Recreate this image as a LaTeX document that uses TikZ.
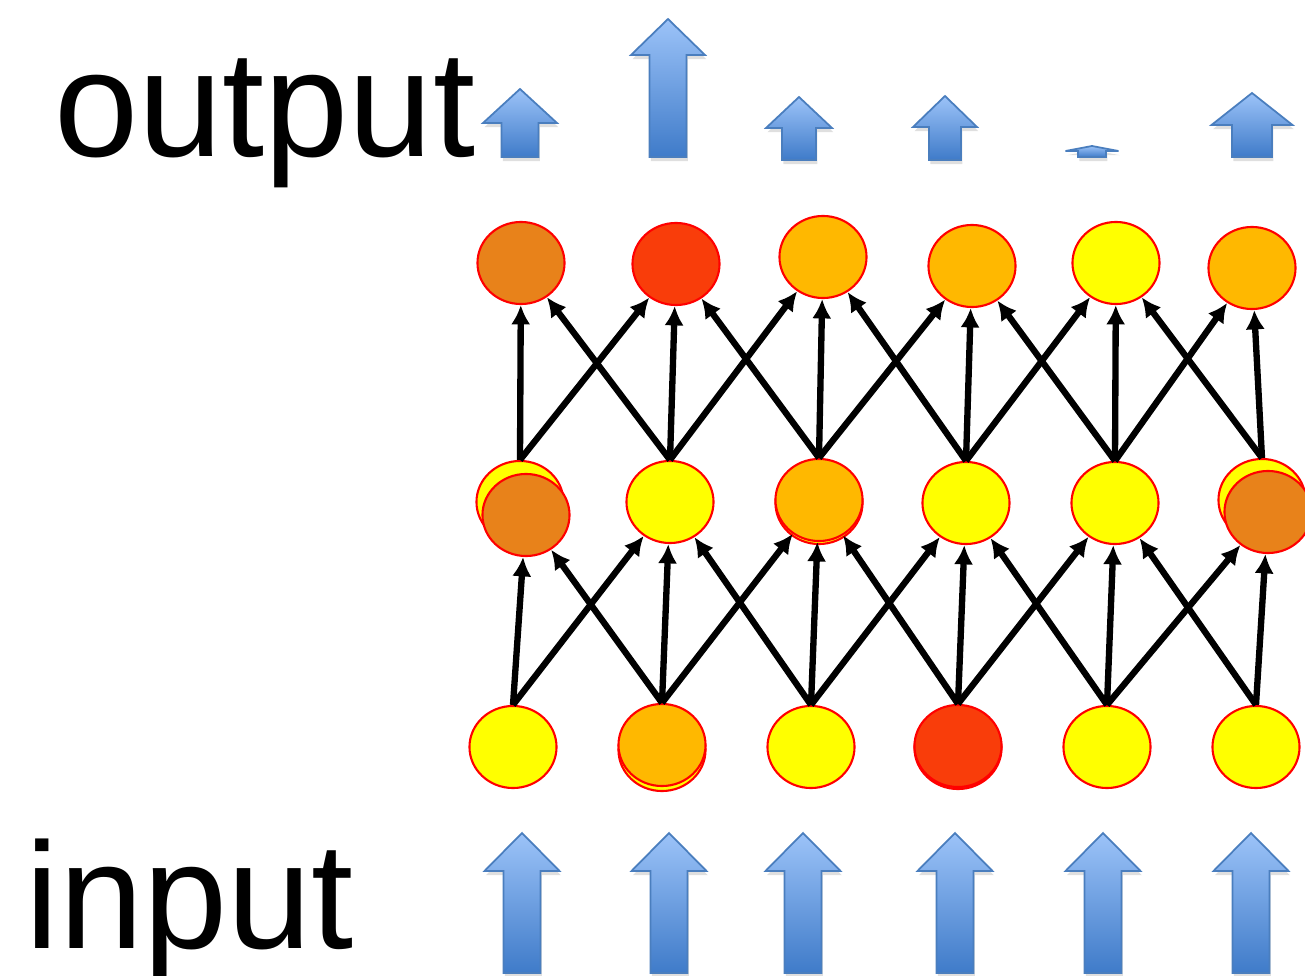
\documentclass[tikz,border=0pt]{standalone}
\usepackage{fontspec}
\setmainfont{Liberation Sans}
\usetikzlibrary{shapes.geometric,arrows.meta,shadows}
\definecolor{cy}{HTML}{FFFF00}
\definecolor{co}{HTML}{FFB800}
\definecolor{cd}{HTML}{E8821A}
\definecolor{cr}{HTML}{F93D0A}
\definecolor{alight}{HTML}{9CC3F8}
\definecolor{adark}{HTML}{3F7BC9}
\definecolor{aedge}{HTML}{4A7EBE}
\begin{document}
\begin{tikzpicture}[x=0.01cm,y=-0.01cm,
  neuron/.style={ellipse, draw=red, line width=0.6pt, minimum width=0.87cm, minimum height=0.82cm, inner sep=0pt},
  conn/.style={line width=1.8pt, -{Latex[length=5.5pt,width=5.5pt]}},
  barrow/.style={top color=alight, bottom color=adark, draw=aedge, line width=0.5pt,
    drop shadow={opacity=0.25, shadow xshift=0.4pt, shadow yshift=-1.2pt}},
  label/.style={anchor=base west, inner sep=0pt, font=\fontsize{43}{50}\selectfont}]
\useasboundingbox (0,0) rectangle (1305,976);
\clip (0,0) rectangle (1305,976);
\newcommand\blockarrow[6]{%
  \path[barrow] (#1-#5,#6) -- (#1-#5,#3) -- (#1-#4,#3) -- (#1,#2) -- (#1+#4,#3) -- (#1+#5,#3) -- (#1+#5,#6) -- cycle;}
% labels
\node[label] (outlbl) at (54,157) {output};
\node[label] (inlbl) at (25,948) {input};
% output arrows
\blockarrow{520}{89}{123}{37}{18.5}{157}
\blockarrow{668}{19}{55}{37}{18.5}{157}
\blockarrow{799}{97}{128}{33}{17}{160}
\blockarrow{945}{96}{127}{32}{16}{160}
\blockarrow{1092}{146}{151}{26.5}{14}{157}
\blockarrow{1252}{93}{125}{40.5}{20}{157}
% input arrows
\foreach \x in {522,669,803,955,1103,1251}{\blockarrow{\x}{833}{871}{37.5}{18.5}{973}}
% top row
\node[neuron, fill=cd] (t1) at (521,263) {};
\node[neuron, fill=cr] (t2) at (676,264) {};
\node[neuron, fill=co] (t3) at (823,257) {};
\node[neuron, fill=co] (t4) at (972,266) {};
\node[neuron, fill=cy] (t5) at (1116,263) {};
\node[neuron, fill=co] (t6) at (1252,268) {};
% middle row
\node[neuron, fill=cy] (m1y) at (520,502) {};
\node[neuron, fill=cd] (m1) at (526,515) {};
\node[neuron, fill=cy] (m2) at (670,502) {};
\node[neuron, fill=cy] (m3b) at (819,503) {};
\node[neuron, fill=co] (m3) at (819,500) {};
\node[neuron, fill=cy] (m4) at (966,503) {};
\node[neuron, fill=cy] (m5) at (1115,503) {};
\node[neuron, fill=cy] (m6y) at (1262,500) {};
\node[neuron, fill=cd] (m6) at (1268,512) {};
% bottom row
\node[neuron, fill=cy] (b1) at (513,747) {};
\node[neuron, fill=cy] (b2b) at (662,750) {};
\node[neuron, fill=co] (b2) at (662,745) {};
\node[neuron, fill=cy] (b3) at (811,747) {};
\node[neuron, fill=cr] (b4b) at (958,748) {};
\node[neuron, fill=cr] (b4) at (958,746) {};
\node[neuron, fill=cy] (b5) at (1107,747) {};
\node[neuron, fill=cy] (b6) at (1256,747) {};
% connections bottom -> middle
\foreach \a/\b in {b1/m1,b1/m2,b2/m1,b2/m2,b2/m3,b3/m2,b3/m3,b3/m4,b4/m3,b4/m4,b4/m5,b5/m4,b5/m5,b5/m6,b6/m5,b6/m6}
  {\draw[conn] (\a.north) -- (\b);}
% connections middle -> top
\foreach \a/\b in {m1y/t1,m1y/t2,m2/t1,m2/t2,m2/t3,m3/t2,m3/t3,m3/t4,m4/t3,m4/t4,m4/t5,m5/t4,m5/t5,m5/t6,m6y/t5,m6y/t6}
  {\draw[conn] (\a.north) -- (\b);}
\end{tikzpicture}
\end{document}
